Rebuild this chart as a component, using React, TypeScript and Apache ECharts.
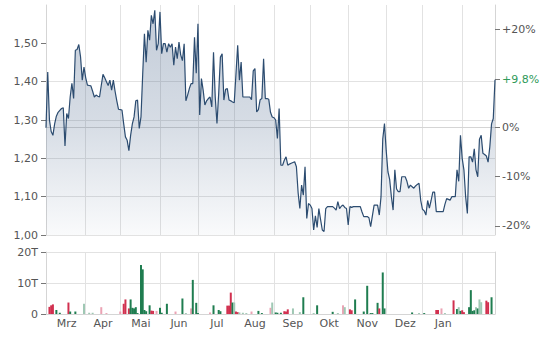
import React, { useEffect, useRef } from 'react';
import * as echarts from 'echarts';

// ---- data ----
const startDate = '2023-03-01';
const endDate = '2024-02-28';
const monthNames = ['Jan', 'Feb', 'Mrz', 'Apr', 'Mai', 'Jun', 'Jul', 'Aug', 'Sep', 'Okt', 'Nov', 'Dez'];
const labelledMonths = ['2023-03', '2023-04', '2023-05', '2023-06', '2023-07', '2023-08', '2023-09', '2023-10', '2023-11', '2023-12', '2024-01'];
const basePrice = 1.28;
const priceTicks = [1.0, 1.1, 1.2, 1.3, 1.4, 1.5];
const percentTicks = [-20, -10, 0, 20];
const volumeTicks = [0, 10, 20];

const prices = [
  1.28, 1.425, 1.30, 1.27, 1.26, 1.29, 1.31, 1.32, 1.325, 1.33,
  1.332, 1.232, 1.317, 1.304, 1.36, 1.396, 1.356, 1.482, 1.484, 1.497,
  1.465, 1.404, 1.438, 1.41, 1.391, 1.39, 1.389, 1.375, 1.36, 1.365,
  1.362, 1.36, 1.39, 1.419, 1.41, 1.40, 1.39, 1.404, 1.378, 1.404,
  1.375, 1.35, 1.328, 1.327, 1.326, 1.29, 1.256, 1.247, 1.22, 1.26,
  1.29, 1.308, 1.35, 1.352, 1.278, 1.308, 1.42, 1.525, 1.451, 1.534,
  1.508, 1.573, 1.551, 1.586, 1.482, 1.499, 1.582, 1.473, 1.499, 1.499,
  1.477, 1.499, 1.49, 1.499, 1.443, 1.49, 1.46, 1.503, 1.47, 1.455,
  1.499, 1.35, 1.365, 1.382, 1.395, 1.395, 1.516, 1.422, 1.551, 1.313,
  1.408, 1.378, 1.339, 1.35, 1.356, 1.36, 1.334, 1.477, 1.36, 1.291,
  1.369, 1.464, 1.473, 1.352, 1.38, 1.382, 1.352, 1.35, 1.347, 1.345,
  1.42, 1.495, 1.404, 1.451, 1.36, 1.36, 1.36, 1.36, 1.36, 1.353,
  1.428, 1.434, 1.321, 1.327, 1.353, 1.356, 1.46, 1.356, 1.356, 1.354,
  1.32, 1.308, 1.306, 1.30, 1.252, 1.33, 1.182, 1.182, 1.195, 1.204,
  1.182, 1.185, 1.187, 1.189, 1.191, 1.178, 1.11, 1.069, 1.13, 1.104,
  1.178, 1.043, 1.082, 1.078, 1.069, 1.013, 1.05, 1.02, 1.069, 1.04,
  1.013, 1.009, 1.069, 1.074, 1.074, 1.074, 1.074, 1.07, 1.065, 1.087,
  1.069, 1.075, 1.078, 1.072, 1.069, 1.026, 1.074, 1.072, 1.074, 1.074,
  1.074, 1.074, 1.074, 1.06, 1.048, 1.048, 1.048, 1.045, 1.022, 1.05,
  1.078, 1.078, 1.078, 1.052, 1.10, 1.25, 1.291, 1.22, 1.165, 1.145,
  1.10, 1.065, 1.17, 1.12, 1.113, 1.113, 1.152, 1.152, 1.152, 1.14,
  1.122, 1.13, 1.126, 1.122, 1.128, 1.132, 1.135, 1.09, 1.067, 1.063,
  1.052, 1.09, 1.07, 1.09, 1.112, 1.112, 1.061, 1.061, 1.061, 1.061,
  1.061, 1.08, 1.095, 1.093, 1.091, 1.10, 1.10, 1.10, 1.17, 1.14,
  1.26, 1.20, 1.17, 1.10, 1.056, 1.204, 1.204, 1.19, 1.225, 1.17,
  1.152, 1.25, 1.26, 1.213, 1.21, 1.206, 1.19, 1.23, 1.29, 1.304,
  1.405,
];

// [trading-day index, volume in thousands, colour code]
const volumeBars: [number, number, string][] = [
  [2, 2.3, 'r'], [3, 2.8, 'r'], [4, 3.1, 'r'], [6, 1.3, 'g'], [8, 0.4, 'g'], [13, 3.7, 'r'], [14, 0.8, 'g'],
  [17, 0.8, 'g'], [22, 3.3, 'l'], [25, 0.4, 'l'], [27, 0.4, 'l'], [32, 2.2, 'p'], [35, 0.3, 'p'], [43, 0.8, 'p'],
  [45, 3.3, 'r'], [46, 4.7, 'r'], [48, 1.8, 'r'], [49, 4.7, 'g'], [50, 2.0, 'g'], [51, 1.8, 'g'], [52, 2.2, 'g'],
  [53, 0.3, 'g'], [55, 15.8, 'g'], [56, 14.4, 'g'], [57, 1.3, 'g'], [58, 0.9, 'g'], [60, 2.8, 'g'], [61, 1.1, 'r'],
  [62, 1.0, 'r'], [64, 1.0, 'p'], [66, 2.0, 'g'], [67, 0.4, 'g'], [70, 3.3, 'g'], [75, 0.8, 'p'], [79, 5.0, 'g'],
  [81, 0.3, 'l'], [84, 1.8, 'p'], [85, 11.0, 'g'], [87, 3.6, 'g'], [88, 0.3, 'g'], [95, 0.5, 'p'], [97, 2.8, 'g'],
  [100, 1.3, 'g'], [101, 0.9, 'g'], [105, 2.7, 'r'], [106, 2.7, 'r'], [107, 6.9, 'r'], [108, 3.7, 'g'], [109, 3.7, 'l'],
  [110, 0.8, 'r'], [111, 0.6, 'r'], [112, 0.5, 'l'], [114, 0.4, 'l'], [116, 0.3, 'l'], [119, 0.8, 'p'], [123, 1.0, 'g'],
  [125, 0.3, 'g'], [130, 2.0, 'p'], [131, 3.7, 'l'], [133, 0.5, 'g'], [134, 0.4, 'g'], [136, 0.4, 'g'], [138, 0.9, 'r'],
  [139, 0.8, 'r'], [140, 1.5, 'r'], [143, 1.8, 'l'], [147, 0.6, 'l'], [149, 5.4, 'g'], [155, 0.3, 'l'], [157, 2.8, 'g'],
  [166, 0.7, 'g'], [169, 0.3, 'l'], [172, 2.8, 'p'], [173, 2.2, 'l'], [176, 1.5, 'r'], [177, 1.2, 'r'], [179, 4.7, 'g'],
  [184, 0.8, 'g'], [186, 9.1, 'g'], [188, 0.3, 'g'], [189, 0.3, 'g'], [192, 3.6, 'g'], [193, 1.8, 'r'], [195, 13.4, 'g'],
  [196, 1.8, 'g'], [212, 0.5, 'g'], [216, 0.3, 'l'], [219, 0.3, 'g'], [226, 1.3, 'r'], [227, 1.3, 'r'], [229, 1.8, 'p'],
  [231, 0.3, 'l'], [236, 4.4, 'r'], [238, 1.6, 'g'], [239, 2.2, 'l'], [240, 1.0, 'g'], [241, 1.2, 'r'], [242, 0.6, 'r'],
  [245, 2.2, 'g'], [246, 7.7, 'g'], [247, 1.0, 'g'], [248, 1.2, 'g'], [249, 2.2, 'l'], [250, 1.8, 'g'], [251, 4.7, 'l'],
  [252, 3.8, 'l'], [255, 4.3, 'r'], [256, 3.8, 'r'], [258, 5.4, 'g'],
];

const volumeColours: Record<string, string> = {
  r: '#d1304f',
  p: '#eba3b4',
  g: '#1f7d50',
  l: '#9fc8b4',
};

// ---- helpers ----
function tradingDays(from: string, to: string): string[] {
  const out: string[] = [];
  const d = new Date(from + 'T00:00:00Z');
  const end = new Date(to + 'T00:00:00Z');
  while (d.getTime() <= end.getTime()) {
    const wd = d.getUTCDay();
    if (wd !== 0 && wd !== 6) out.push(d.toISOString().slice(0, 10));
    d.setUTCDate(d.getUTCDate() + 1);
  }
  return out;
}

const FONT = 'DejaVu Sans, Verdana, sans-serif';

export default function App() {
  const ref = useRef<HTMLDivElement>(null);

  useEffect(() => {
    if (!ref.current) return;
    const chart = echarts.init(ref.current, undefined, { renderer: 'svg' });

    const dates = tradingDays(startDate, endDate);
    const monthStarts = new Set<number>();
    const monthRanges: Record<string, [number, number]> = {};
    dates.forEach((d, i) => {
      const m = d.slice(0, 7);
      if (i > 0 && dates[i - 1].slice(0, 7) !== m) monthStarts.add(i);
      if (!monthRanges[m]) monthRanges[m] = [i, i];
      monthRanges[m][1] = i;
    });
    const midIdx = new Set<number>();
    labelledMonths.forEach((m) => {
      const r = monthRanges[m];
      if (r) midIdx.add(Math.round((r[0] + r[1] + 1) / 2));
    });

    const volData = dates.map(() => ({ value: 0, itemStyle: { color: volumeColours.g } }));
    volumeBars.forEach(([i, v, c]) => {
      volData[i] = { value: v, itemStyle: { color: volumeColours[c] } };
    });

    const last = prices[prices.length - 1];
    const lastChange = Math.round((last / basePrice - 1) * 1000) / 10;
    const pMin = (1.0 / basePrice - 1) * 100;
    const pMax = (1.6 / basePrice - 1) * 100;
    const pctTicks = [...percentTicks, lastChange];

    const gridLine = '#e2e2e2';
    const axisCol = '#d5d5d5';
    const labelCol = '#555';
    const tickCol = '#777';

    const xBase = (gridIndex: number, showLabels: boolean) => ({
      type: 'category',
      gridIndex,
      data: dates,
      boundaryGap: false,
      axisLine: { show: true, lineStyle: { color: axisCol } },
      axisTick: { show: false },
      splitLine: {
        show: true,
        interval: (i: number) => monthStarts.has(i),
        lineStyle: { color: gridLine },
      },
      axisLabel: showLabels
        ? {
            show: true,
            interval: (i: number) => midIdx.has(i),
            formatter: (v: string) => monthNames[parseInt(v.slice(5, 7), 10) - 1],
            color: labelCol,
            fontSize: 11,
            fontFamily: FONT,
            margin: 4,
          }
        : { show: false },
    });

    chart.setOption({
      animation: false,
      textStyle: { fontFamily: FONT },
      grid: [
        { left: 46, right: 63, top: 5, height: 230 },
        { left: 46, right: 63, top: 252, height: 62, show: false },
      ],
      xAxis: [xBase(0, false), xBase(1, true)],
      yAxis: [
        {
          type: 'value',
          gridIndex: 0,
          position: 'left',
          min: 1.0,
          max: 1.6,
          interval: 0.1,
          axisLine: { show: true, lineStyle: { color: axisCol } },
          axisTick: { show: true, length: 5, lineStyle: { color: tickCol }, customValues: priceTicks },
          axisLabel: {
            customValues: priceTicks,
            formatter: (v: number) => v.toFixed(2).replace('.', ','),
            color: labelCol,
            fontSize: 11,
            fontFamily: FONT,
            margin: 8,
          },
          splitLine: { show: true, showMaxLine: false, lineStyle: { color: gridLine } },
        },
        {
          type: 'value',
          gridIndex: 0,
          position: 'right',
          min: pMin,
          max: pMax,
          axisLine: { show: true, lineStyle: { color: axisCol } },
          axisTick: { show: true, length: 5, lineStyle: { color: tickCol }, customValues: pctTicks },
          axisLabel: {
            customValues: pctTicks,
            formatter: (v: number) => {
              const s = (v > 0 ? '+' : '') + String(v).replace('.', ',') + '%';
              return v === lastChange ? '{g|' + s + '}' : s;
            },
            rich: { g: { color: '#2f9a5a', fontSize: 11, fontFamily: FONT } },
            color: labelCol,
            fontSize: 11,
            fontFamily: FONT,
            margin: 7,
          },
          splitLine: { show: false },
        },
        {
          type: 'value',
          gridIndex: 1,
          position: 'left',
          min: 0,
          max: 20,
          interval: 10,
          axisLine: { show: true, lineStyle: { color: axisCol } },
          axisTick: { show: true, length: 5, lineStyle: { color: tickCol }, customValues: volumeTicks },
          axisLabel: {
            customValues: volumeTicks,
            formatter: (v: number) => (v === 0 ? '0' : v + 'T'),
            color: labelCol,
            fontSize: 11,
            fontFamily: FONT,
            margin: 8,
          },
          splitLine: { show: true, lineStyle: { color: gridLine } },
        },
        {
          type: 'value',
          gridIndex: 1,
          position: 'right',
          min: 0,
          max: 20,
          axisLine: { show: true, lineStyle: { color: axisCol } },
          axisTick: { show: false },
          axisLabel: { show: false },
          splitLine: { show: false },
        },
      ],
      series: [
        {
          type: 'line',
          xAxisIndex: 0,
          yAxisIndex: 0,
          data: prices,
          showSymbol: false,
          symbol: 'none',
          lineStyle: { color: '#2c4c70', width: 1.2 },
          areaStyle: {
            color: new echarts.graphic.LinearGradient(0, 0, 0, 1, [
              { offset: 0, color: 'rgba(60,90,130,0.44)' },
              { offset: 0.5, color: 'rgba(60,90,130,0.30)' },
              { offset: 1, color: 'rgba(60,90,130,0.04)' },
            ]),
          },
        },
        {
          type: 'bar',
          xAxisIndex: 1,
          yAxisIndex: 2,
          data: volData,
          barWidth: 2,
        },
      ],
    });

    return () => chart.dispose();
  }, []);

  return (
    <div
      ref={ref}
      style={{ position: 'fixed', left: 0, top: 0, width: 558, height: 343, background: '#fff' }}
    />
  );
}
